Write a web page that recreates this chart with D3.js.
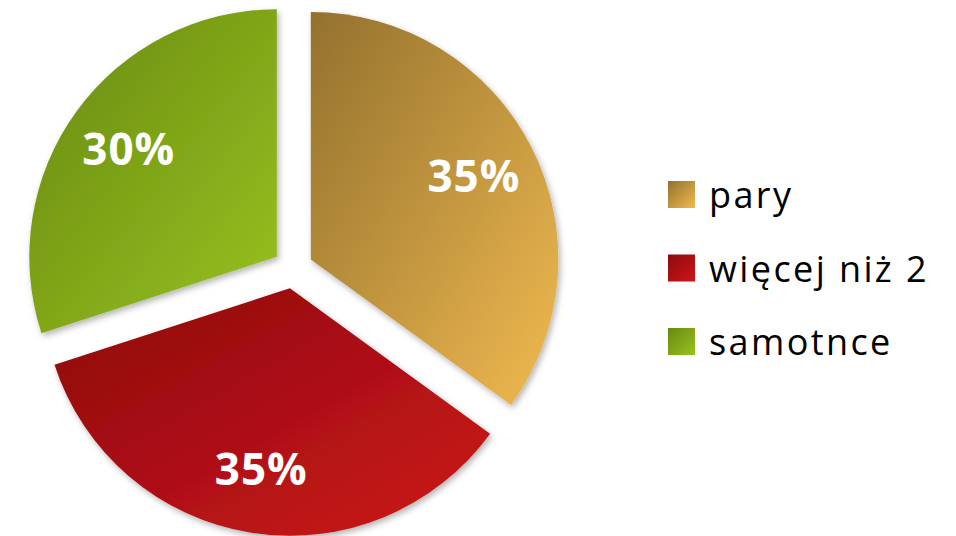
<!DOCTYPE html>
<html>
<head>
<meta charset="utf-8">
<script src="https://cdn.jsdelivr.net/npm/d3@7"></script>
<style>
  html, body { margin: 0; padding: 0; background: #ffffff; }
  svg { display: block; }
</style>
</head>
<body>
<svg id="chart" width="956" height="536"></svg>
<script>
// ---- data ----
const categories = ["pary", "więcej niż 2", "samotnce"];
const values = [35, 35, 30];
const labels = ["35%", "35%", "30%"];
const colorsDark = ["#93712e", "#8c0b0e", "#688813"];
const colorsLight = ["#f0ba50", "#cd1619", "#98c31f"];

// ---- layout ----
const W = 956, H = 536;
const cx = 293, cy = 268.5;
const R = 247.5;
const explode = 20;
const labelR = 183;

const svg = d3.select("#chart");
const defs = svg.append("defs");

// drop shadow
const f = defs.append("filter").attr("id", "shadow")
  .attr("x", "-10%").attr("y", "-10%").attr("width", "130%").attr("height", "130%");
f.append("feDropShadow").attr("dx", 2).attr("dy", 3).attr("stdDeviation", 3)
  .attr("flood-color", "#000").attr("flood-opacity", 0.3);

// gradients
categories.forEach((c, i) => {
  const g = defs.append("linearGradient").attr("id", "grad" + i)
    .attr("x1", 0).attr("y1", 0).attr("x2", 1).attr("y2", 1);
  g.append("stop").attr("offset", "0%").attr("stop-color", colorsDark[i]);
  g.append("stop").attr("offset", "100%").attr("stop-color", colorsLight[i]);
});

const pie = d3.pie().sort(null).value(d => d.value);
const data = pie(categories.map((c, i) => ({ name: c, value: values[i], label: labels[i], i })));

const arc = d3.arc().innerRadius(0).outerRadius(R);
const labelArc = d3.arc().innerRadius(labelR).outerRadius(labelR);

const gPie = svg.append("g").attr("transform", `translate(${cx},${cy})`);

const slices = gPie.selectAll("g.slice").data(data).enter().append("g")
  .attr("class", "slice")
  .attr("transform", d => {
    const mid = (d.startAngle + d.endAngle) / 2;
    return `translate(${Math.sin(mid) * explode},${-Math.cos(mid) * explode})`;
  });

slices.append("path")
  .attr("d", arc)
  .attr("fill", d => `url(#grad${d.data.i})`)
  .attr("filter", "url(#shadow)");

slices.append("text")
  .attr("transform", d => `translate(${labelArc.centroid(d)})`)
  .attr("text-anchor", "middle")
  .attr("dy", "0.36em")
  .attr("fill", "#ffffff")
  .attr("font-family", "'Open Sans', sans-serif")
  .attr("font-weight", "bold")
  .attr("font-size", 44)
  .attr("letter-spacing", "1px")
  .text(d => d.data.label);

// legend
const legendX = 668, legendY0 = 194.5, legendStep = 73.5, sq = 27;
const legend = svg.append("g");
const items = legend.selectAll("g").data(categories).enter().append("g")
  .attr("transform", (d, i) => `translate(${legendX},${legendY0 + i * legendStep})`);

items.each(function(d, i) {
  const lg = defs.append("linearGradient").attr("id", "lgrad" + i)
    .attr("x1", 0).attr("y1", 0).attr("x2", 1).attr("y2", 1);
  lg.append("stop").attr("offset", "0%").attr("stop-color", colorsDark[i]);
  lg.append("stop").attr("offset", "100%").attr("stop-color", colorsLight[i]);
});

items.append("rect")
  .attr("x", 0).attr("y", -sq / 2)
  .attr("width", sq).attr("height", sq)
  .attr("fill", (d, i) => `url(#lgrad${i})`);

items.append("text")
  .attr("x", 41).attr("y", sq / 2)
  .attr("fill", "#000000")
  .attr("font-family", "'Open Sans', sans-serif")
  .attr("font-size", 36)
  .attr("letter-spacing", "2.4px")
  .text(d => d);
</script>
</body>
</html>
